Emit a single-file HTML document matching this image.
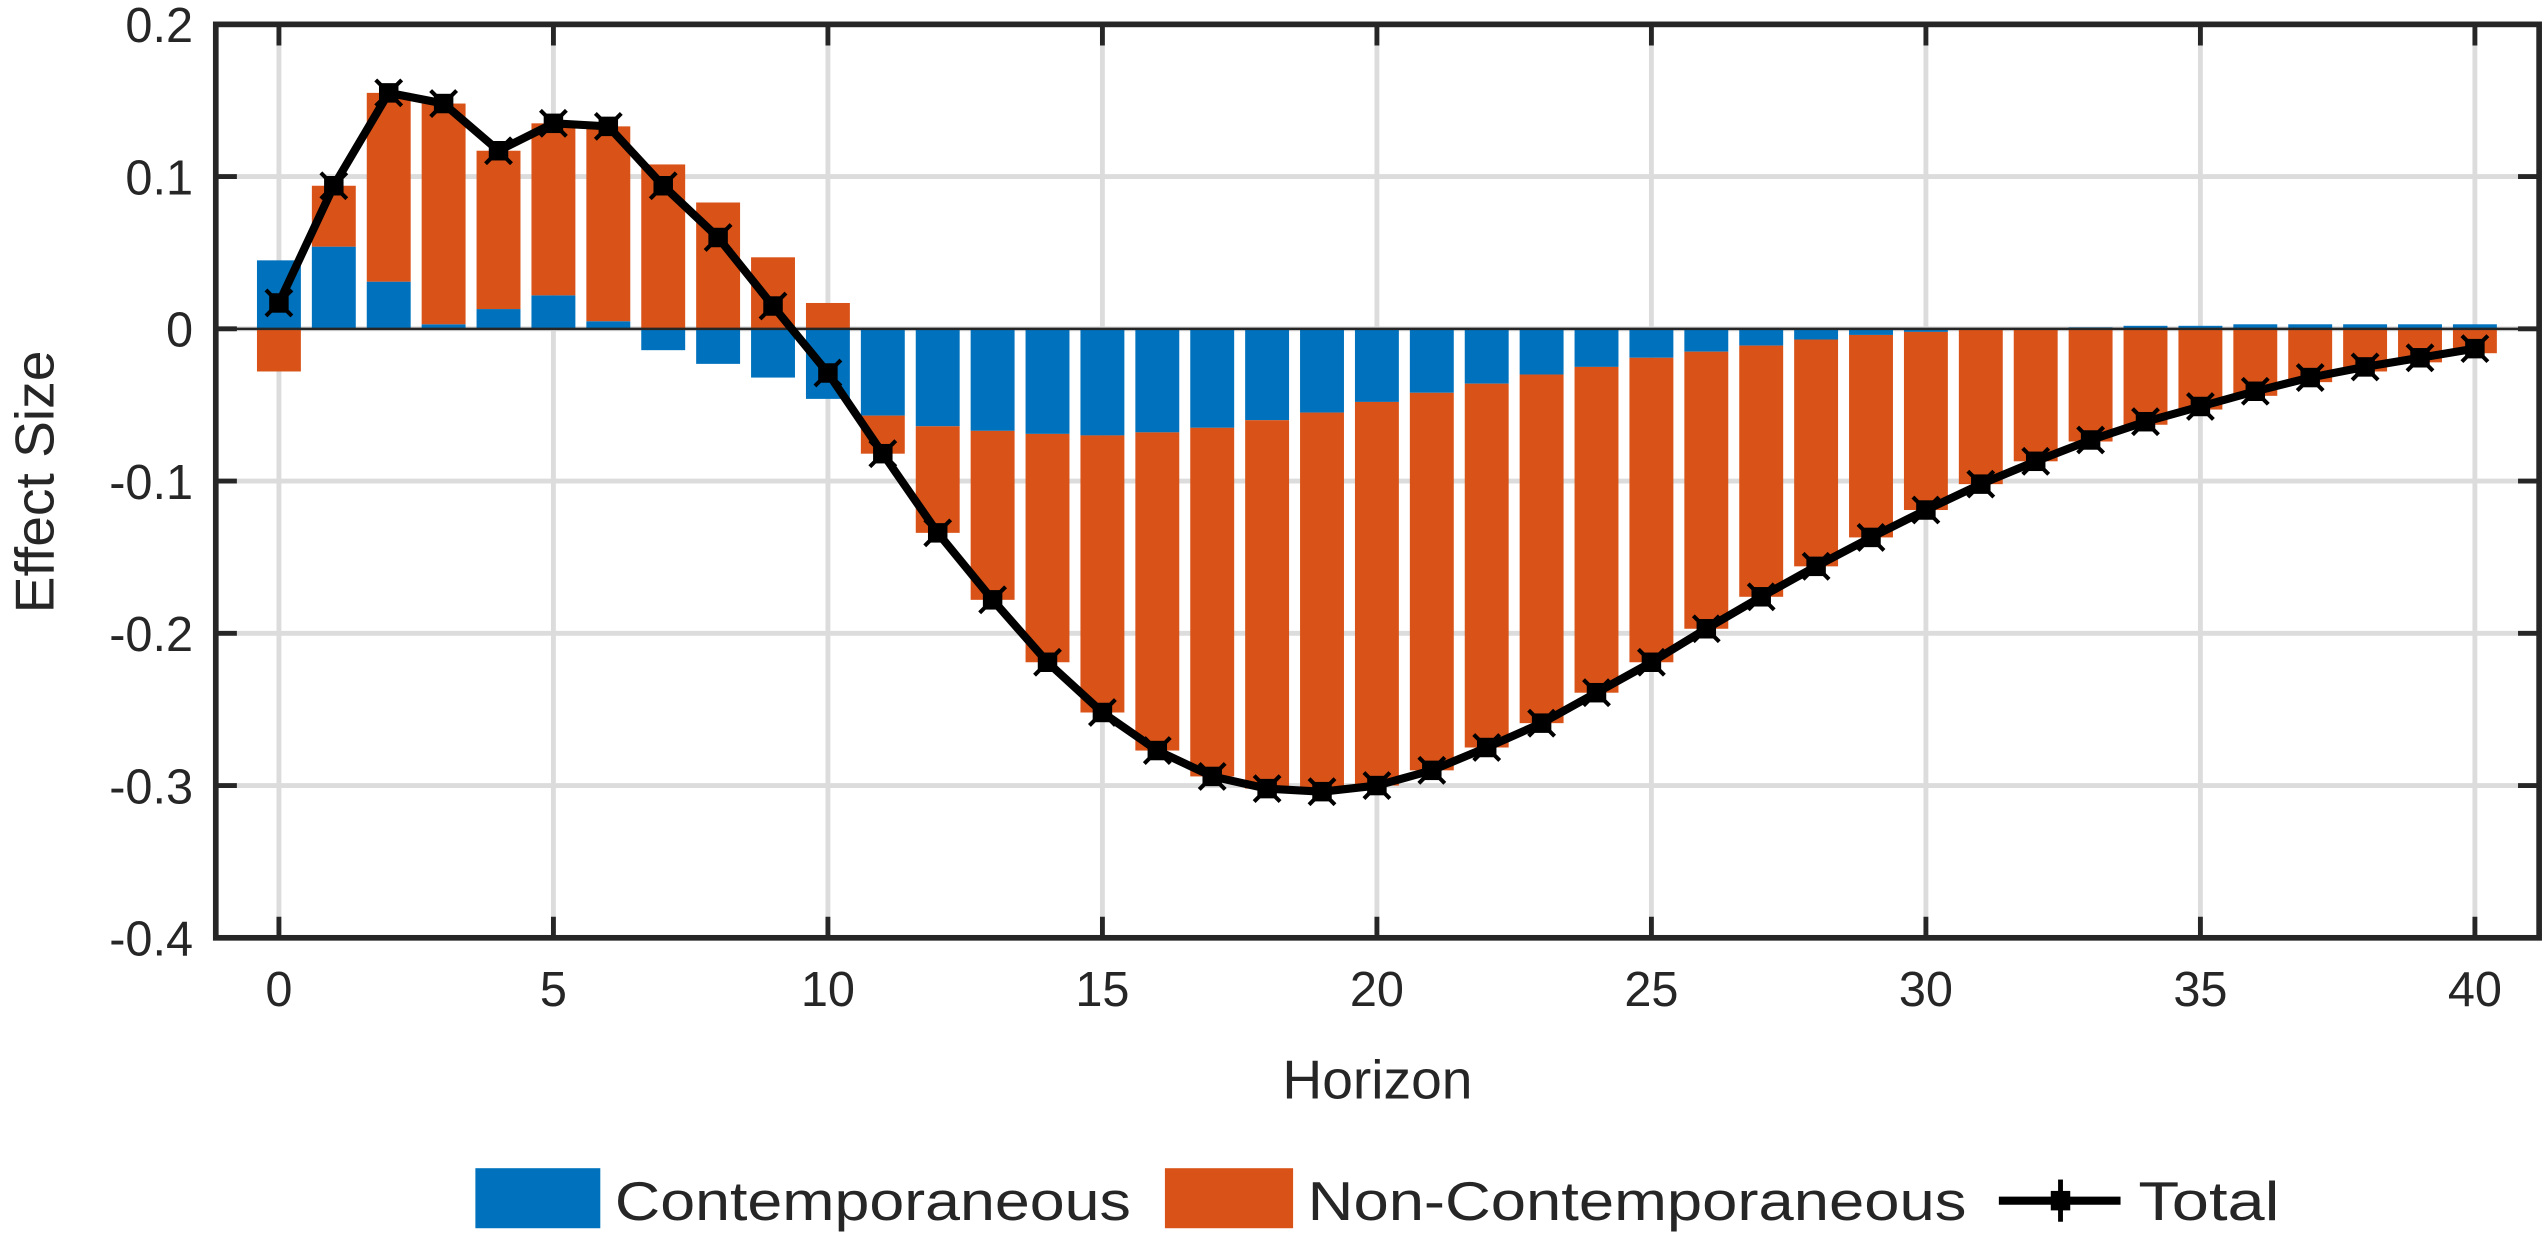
<!DOCTYPE html>
<html><head><meta charset="utf-8"><style>
html,body{margin:0;padding:0;background:#fff}
svg{display:block}
text{font-family:"Liberation Sans",Arial,sans-serif;fill:#262626}
</style></head><body>
<svg id="chart" width="2544" height="1238" viewBox="0 0 1568 763" xmlns="http://www.w3.org/2000/svg">
<g id="grid"></g>
<g id="bars"></g>
<g id="line"></g>
<g id="axes"></g>
<text x="849" y="677" font-size="34" text-anchor="middle">Horizon</text>
<text transform="translate(33,297) rotate(-90)" font-size="34" text-anchor="middle">Effect Size</text>
<g>
  <rect x="293" y="720" width="77" height="37" fill="#0072BD"/>
  <text x="379" y="752" font-size="34" textLength="318" lengthAdjust="spacingAndGlyphs">Contemporaneous</text>
  <rect x="718" y="720" width="79" height="37" fill="#D95319"/>
  <text x="806" y="752" font-size="34" textLength="406" lengthAdjust="spacingAndGlyphs">Non-Contemporaneous</text>
  <line x1="1232" y1="740" x2="1307" y2="740" stroke="#000" stroke-width="5"/>
  <rect x="1264" y="734" width="12" height="12" fill="#000"/>
  <line x1="1270" y1="727" x2="1270" y2="753" stroke="#000" stroke-width="3"/>
  <text x="1318" y="752" font-size="34" textLength="87" lengthAdjust="spacingAndGlyphs">Total</text>
</g>
</svg>
<script>
const horizons = [0,1,2,3,4,5,6,7,8,9,10,11,12,13,14,15,16,17,18,19,20,21,22,23,24,25,26,27,28,29,30,31,32,33,34,35,36,37,38,39,40];
const contemporaneous = [0.045,0.054,0.031,0.003,0.013,0.022,0.005,-0.014,-0.023,-0.032,-0.046,-0.057,-0.064,-0.067,-0.069,-0.070,-0.068,-0.065,-0.060,-0.055,-0.048,-0.042,-0.036,-0.030,-0.025,-0.019,-0.015,-0.011,-0.007,-0.004,-0.002,0.000,0.000,0.001,0.002,0.002,0.003,0.003,0.003,0.003,0.003];
const totalEffect = [0.017,0.094,0.155,0.148,0.117,0.135,0.133,0.094,0.060,0.015,-0.029,-0.082,-0.134,-0.178,-0.219,-0.252,-0.277,-0.294,-0.302,-0.304,-0.300,-0.290,-0.275,-0.259,-0.239,-0.219,-0.197,-0.176,-0.156,-0.137,-0.119,-0.102,-0.087,-0.073,-0.061,-0.051,-0.041,-0.032,-0.025,-0.019,-0.013];
const nonContemporaneous = totalEffect.map((t,i)=>t-contemporaneous[i]);
const xTicks = [0,5,10,15,20,25,30,35,40];
const yTicks = [-0.4,-0.3,-0.2,-0.1,0,0.1,0.2];
const yTickLabels = ["-0.4","-0.3","-0.2","-0.1","0","0.1","0.2"];

const L=133,R=1565,T=15,B=578, XMIN=-1.15, XMAX=41.17, YMIN=-0.4, YMAX=0.2;
const xs=v=>L+(v-XMIN)/(XMAX-XMIN)*(R-L);
const ys=v=>B-(v-YMIN)/(YMAX-YMIN)*(B-T);
const NS="http://www.w3.org/2000/svg";
function mk(tag,parent,attrs){const e=document.createElementNS(NS,tag);for(const k in attrs)e.setAttribute(k,attrs[k]);parent.appendChild(e);return e;}
const grid=document.getElementById('grid'),bars=document.getElementById('bars'),line=document.getElementById('line'),axes=document.getElementById('axes');

xTicks.forEach(v=>{const g=mk('line',grid,{x1:xs(v),x2:xs(v),y1:T,y2:B,stroke:'#dcdcdc','stroke-width':3});

});
yTicks.forEach(v=>{const g=mk('line',grid,{x1:L,x2:R,y1:ys(v),y2:ys(v),stroke:'#dcdcdc','stroke-width':3});

});

const bw=0.8;
horizons.forEach((h,i)=>{
  let pos=0,neg=0;
  [[contemporaneous[i],'#0072BD','bar-contemporaneous'],[nonContemporaneous[i],'#D95319','bar-non-contemporaneous']].forEach(([v,c,n])=>{
    let y0,y1;
    if(v>=0){y0=pos;y1=pos+v;pos=y1;}else{y0=neg;y1=neg+v;neg=y1;}
    const top=Math.min(ys(y0),ys(y1)),hgt=Math.abs(ys(y0)-ys(y1));
    const r=mk('rect',bars,{x:xs(h-bw/2),y:top,width:xs(bw)-xs(0),height:hgt,fill:c});
    
    
  });
});
const zl=mk('line',bars,{x1:L,x2:R,y1:ys(0),y2:ys(0),stroke:'#262626','stroke-width':1.5});



const pl=mk('polyline',line,{points:horizons.map((h,i)=>xs(h)+','+ys(totalEffect[i])).join(' '),fill:'none',stroke:'#000','stroke-width':5,'stroke-linejoin':'round'});


horizons.forEach((h,i)=>{
  const cx=xs(h),cy=ys(totalEffect[i]);
  const m=mk('rect',line,{x:cx-6,y:cy-6,width:12,height:12,fill:'#000'});
  
  
  const s=mk('path',line,{d:`M${cx-8},${cy-8}L${cx+8},${cy+8}M${cx+8},${cy-8}L${cx-8},${cy+8}`,stroke:'#000','stroke-width':2.5});
  
  
});

const frame=mk('rect',axes,{x:L,y:T,width:R-L,height:B-T,fill:'none',stroke:'#262626','stroke-width':3.5});


xTicks.forEach(v=>{
  const a=mk('path',axes,{d:`M${xs(v)},${B}v-13M${xs(v)},${T}v13`,stroke:'#262626','stroke-width':3});
  
  
  const t=mk('text',axes,{x:xs(v),y:B+42,'font-size':30,'text-anchor':'middle'});
  t.textContent=String(v);
  
  
});
yTicks.forEach((v,i)=>{
  const a=mk('path',axes,{d:`M${L},${ys(v)}h13M${R},${ys(v)}h-13`,stroke:'#262626','stroke-width':3});
  
  
  const t=mk('text',axes,{x:L-14,y:ys(v)+11,'font-size':30,'text-anchor':'end'});
  t.textContent=yTickLabels[i];
  
  
});
</script>
</body></html>
